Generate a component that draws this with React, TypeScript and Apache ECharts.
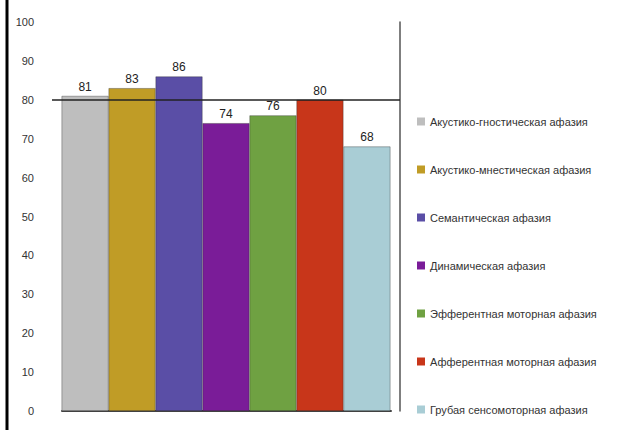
import React, { useEffect, useRef } from "react";
import * as echarts from "echarts";

const seriesNames = [
  "Акустико-гностическая афазия",
  "Акустико-мнестическая афазия",
  "Семантическая афазия",
  "Динамическая афазия",
  "Эфферентная моторная афазия",
  "Афферентная моторная афазия",
  "Грубая сенсомоторная афазия",
];
const seriesValues = [81, 83, 86, 74, 76, 80, 68];
const seriesColors = ["#BEBEBE", "#C09C26", "#5A4EA6", "#7A1C98", "#6FA142", "#C8361A", "#A9CDD5"];
const referenceLevel = 80;

export default function App() {
  const ref = useRef<HTMLDivElement>(null);
  useEffect(() => {
    document.body.style.margin = "0";
    const chart = echarts.init(ref.current!, null, { renderer: "svg" });
    const series: any[] = seriesNames.map((name, i) => ({
      name,
      type: "bar",
      data: [seriesValues[i]],
      itemStyle: { color: seriesColors[i], borderColor: "rgba(40,40,40,0.6)", borderWidth: 0.6 },
      barGap: "0%",
      barCategoryGap: "5.5%",
      label: {
        show: true,
        position: "top",
        distance: 3,
        color: "#222",
        fontSize: 12,
        fontFamily: "Liberation Sans",
      },
      ...(i === 0
        ? {
            markLine: {
              symbol: "none",
              silent: true,
              label: { show: false },
              lineStyle: { color: "#222", width: 1.5, type: "solid" },
              data: [{ yAxis: referenceLevel }],
            },
          }
        : {}),
    }));
    chart.setOption({
      animation: false,
      backgroundColor: "#fff",
      grid: [
        { left: 52, right: 230, top: 22, bottom: 19 },
        { left: 62, right: 239, top: 22, bottom: 19 },
      ],
      legend: {
        orient: "vertical",
        left: 412,
        top: 111,
        itemWidth: 8,
        itemHeight: 8,
        itemGap: 37,
        icon: "rect",
        itemStyle: { borderWidth: 0 },
        textStyle: { color: "#333", fontSize: 11, fontFamily: "Liberation Sans" },
        data: seriesNames,
      },
      xAxis: [
        {
          type: "category",
          gridIndex: 0,
          data: [""],
          axisLine: { show: false },
          axisTick: { show: false },
          axisLabel: { show: false },
        },
        {
          type: "category",
          gridIndex: 1,
          data: [""],
          axisLine: { show: true, lineStyle: { color: "#444", width: 2 } },
          axisTick: { show: false },
          axisLabel: { show: false },
        },
      ],
      yAxis: [
        {
          type: "value",
          gridIndex: 0,
          min: 0,
          max: 100,
          interval: 10,
          axisLine: { show: false },
          axisTick: { show: false },
          splitLine: { show: false },
          axisLabel: {
            color: "#333",
            fontSize: 11,
            fontFamily: "Liberation Sans",
            margin: 18,
          },
        },
        {
          type: "value",
          gridIndex: 0,
          position: "right",
          min: 0,
          max: 100,
          interval: 10,
          axisLine: { show: true, lineStyle: { color: "#555", width: 1.5 } },
          axisTick: { show: false },
          splitLine: { show: false },
          axisLabel: { show: false },
        },
        {
          type: "value",
          gridIndex: 1,
          min: 0,
          max: 100,
          show: false,
        },
      ],
      graphic: [
        {
          type: "line",
          shape: { x1: 7, y1: 0, x2: 7, y2: 430 },
          style: { stroke: "#000", lineWidth: 3 },
        },
      ],
      series,
    });
    return () => chart.dispose();
  }, []);
  return <div ref={ref} style={{ width: 630, height: 430 }} />;
}
